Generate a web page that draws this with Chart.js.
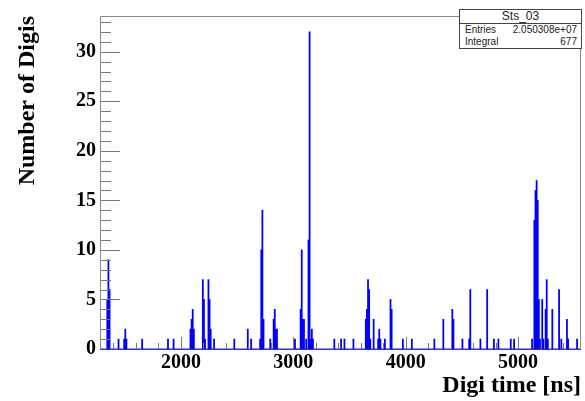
<!DOCTYPE html>
<html><head><meta charset="utf-8">
<script src="https://cdn.jsdelivr.net/npm/chart.js@4.4.0/dist/chart.umd.min.js"></script>
<style>
html,body{margin:0;padding:0;background:#fff;}
#wrap{position:relative;width:585px;height:401px;}
#stats{position:absolute;left:459px;top:9px;width:121px;height:38px;border:1px solid #444;background:#fff;font-family:"Liberation Sans",Arial,sans-serif;color:#222;}
#stats .t{height:13px;line-height:13px;text-align:center;font-size:12px;border-bottom:1px solid #444;}
#stats .r{display:flex;justify-content:space-between;padding:0 4px 0 5px;height:12px;line-height:12px;font-size:10px;}
</style></head>
<body><div id="wrap"><canvas id="c" width="585" height="401"></canvas>
<div id="stats"><div class="t">Sts_03</div><div class="r"><span>Entries</span><span>2.050308e+07</span></div><div class="r"><span>Integral</span><span>677</span></div></div></div>
<script>
// ---- data ----
const binStart = 1280, binEnd = 5560, binWidth = 10;
const spikeTimes = [1340,1350,1360,1440,1490,1500,1510,1650,1880,1930,
  2080,2090,2100,2110,2190,2200,2210,2240,2250,2260,2290,2470,2590,2620,
  2700,2710,2720,2730,2790,2820,2830,2840,2850,3010,3060,3070,3080,3090,3110,
  3130,3140,3150,3160,3170,3360,3420,3450,3530,3640,3650,3660,3670,3680,3710,
  3750,3760,3770,3810,3860,3870,3970,4050,4250,4330,4410,4420,4500,4560,4570,
  4660,4720,4780,4820,4930,4960,5120,5140,5150,5160,5170,5180,5190,5210,5220,
  5240,5250,5260,5300,5360,5380,5430,5440,5520];
const spikeCounts = [5,9,6,1,1,2,1,1,1,1,
  2,3,4,2,7,5,1,7,5,2,1,1,2,1,
  1,10,14,3,1,3,4,2,2,1,4,10,3,3,1,
  11,32,1,2,1,1,1,1,1,3,4,7,6,1,3,
  1,2,1,1,5,4,1,1,1,3,4,3,1,1,6,
  1,6,1,1,1,1,1,13,16,17,15,5,1,5,1,
  4,7,1,4,6,1,3,1,1];
const xTickValues = [2000,3000,4000,5000];
const xMinorStep = 200;
const yTickValues = [0,5,10,15,20,25,30];
const yMinorStep = 1;
const yMax = 33.6;

const nBins = Math.round((binEnd - binStart) / binWidth);
const binLabels = [];
const binCounts = new Array(nBins).fill(0);
for (let i = 0; i < nBins; i++) binLabels.push(binStart + i * binWidth);
spikeTimes.forEach((t, k) => {
  const i = Math.round((t - binStart) / binWidth);
  if (i >= 0 && i < nBins) binCounts[i] += spikeCounts[k];
});

const serifBold = (size) => ({family: '"Liberation Serif","Times New Roman",serif', weight: 'bold', size: size});

const framePlugin = {
  id: 'frame',
  afterDraw(chart) {
    const {ctx, chartArea: a, scales} = chart;
    const ys = scales.y, xs = scales.xt;
    ctx.save();
    ctx.lineWidth = 1;
    // ticks
    ctx.strokeStyle = '#777';
    ctx.beginPath();
    for (let v = 0; v <= yMax + 1e-9; v += yMinorStep) {
      const p = Math.round(ys.getPixelForValue(v)) + 0.5;
      const len = yTickValues.includes(v) ? 20 : 11;
      ctx.moveTo(a.left, p); ctx.lineTo(a.left + len, p);
    }
    const first = Math.ceil(binStart / xMinorStep) * xMinorStep;
    for (let v = first; v <= binEnd; v += xMinorStep) {
      const p = Math.round(xs.getPixelForValue(v)) + 0.5;
      const len = xTickValues.includes(v) ? 12 : 6;
      ctx.moveTo(p, a.bottom); ctx.lineTo(p, a.bottom - len);
    }
    ctx.stroke();
    // frame
    ctx.strokeStyle = '#888';
    ctx.beginPath();
    ctx.moveTo(a.left + 0.5, a.bottom);
    ctx.lineTo(a.left + 0.5, a.top + 0.5);
    ctx.lineTo(a.right - 0.5, a.top + 0.5);
    ctx.lineTo(a.right - 0.5, a.bottom);
    ctx.stroke();
    ctx.strokeStyle = '#3434c4';
    ctx.beginPath();
    ctx.moveTo(a.left, a.bottom + 0.5); ctx.lineTo(a.right, a.bottom + 0.5);
    ctx.stroke();
    ctx.restore();
  }
};

new Chart(document.getElementById('c'), {
  type: 'bar',
  data: {
    labels: binLabels,
    datasets: [{
      data: binCounts,
      backgroundColor: '#0000ff',
      borderWidth: 0,
      categoryPercentage: 1,
      barPercentage: 1,
      xAxisID: 'x',
      yAxisID: 'y'
    }]
  },
  options: {
    responsive: false,
    animation: false,
    devicePixelRatio: 1,
    layout: {padding: {left: 0, right: 4, top: 9, bottom: 0}},
    plugins: {legend: {display: false}, tooltip: {enabled: false}},
    scales: {
      x: {type: 'category', display: false, offset: true},
      xt: {
        type: 'linear', position: 'bottom', min: binStart, max: binEnd, offset: false,
        afterBuildTicks: (s) => { s.ticks = xTickValues.map(v => ({value: v})); },
        grid: {display: false, drawTicks: false, offset: false},
        border: {display: false},
        ticks: {font: serifBold(20), color: '#000', padding: 2, maxRotation: 0, autoSkip: false, callback: (v) => String(v)},
        title: {display: true, text: 'Digi time [ns]', align: 'end', color: '#000', font: serifBold(24), padding: {top: 0, bottom: 1}},
        afterFit: (s) => { s.height = 52; }
      },
      y: {
        type: 'linear', position: 'left', min: 0, max: yMax,
        afterBuildTicks: (s) => { s.ticks = yTickValues.map(v => ({value: v})); },
        grid: {display: false, drawTicks: false},
        border: {display: false},
        ticks: {font: serifBold(20), color: '#000', padding: 4, callback: (v) => String(v)},
        title: {display: true, text: 'Number of Digis', align: 'end', color: '#000', font: serifBold(24), padding: {top: 13, bottom: 0}},
        afterFit: (s) => { s.width = 100; }
      }
    }
  },
  plugins: [framePlugin]
});
</script>
</body></html>
